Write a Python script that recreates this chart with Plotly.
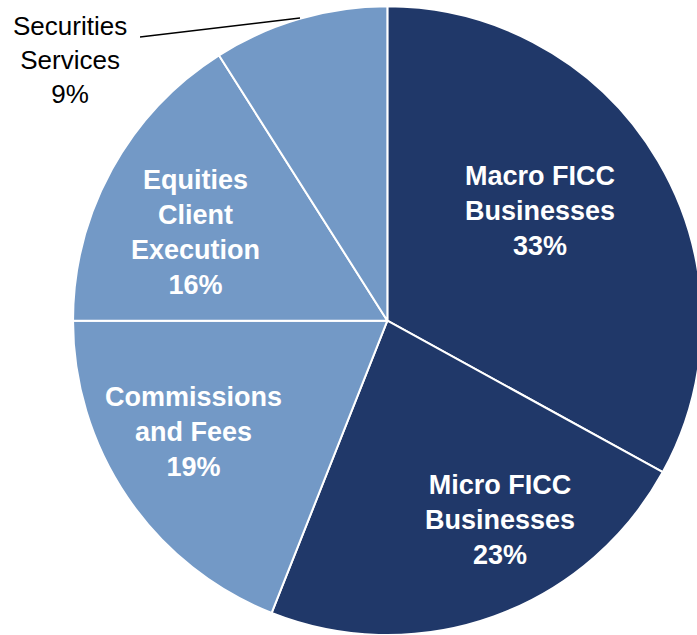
import plotly.graph_objects as go

# slice data, clockwise from 12 o'clock
segments = ["Macro FICC<br>Businesses", "Micro FICC<br>Businesses", "Commissions<br>and Fees",
            "Equities<br>Client<br>Execution", "Securities<br>Services"]
shares = [33, 23, 19, 16, 9]
colors = ["#203869", "#203869", "#7399C6", "#7399C6", "#7399C6"]

# label anchor points in page pixels (x, y from top)
label_pos = [(540, 211), (500, 520), (193, 432), (196, 233), (70, 60)]

# figure is a bit wider than the window so the pie can run off the right edge
W, H = 720, 635


def to_paper(px, py):
    return px / W, 1 - py / H


fig = go.Figure(go.Pie(
    labels=segments,
    values=shares,
    sort=False,
    direction="clockwise",
    rotation=0,
    marker=dict(colors=colors, line=dict(color="white", width=2)),
    textinfo="none",
    hoverinfo="label+value",
    domain=dict(x=[0.101, 0.975], y=[0.0, 0.99]),
    showlegend=False,
))

for i, (seg, val) in enumerate(zip(segments, shares)):
    x, y = to_paper(*label_pos[i])
    outside = i == len(segments) - 1
    fig.add_annotation(
        x=x, y=y, xref="paper", yref="paper",
        text=f"{seg}<br>{val}%",
        showarrow=False, xanchor="center", yanchor="middle",
        font=dict(family="Liberation Sans, Arial",
                  size=26 if outside else 27,
                  color="black" if outside else "white",
                  weight="normal" if outside else "bold"),
    )

# leader line for the small slice
x0, y0 = to_paper(140, 37)
x1, y1 = to_paper(300, 18)
fig.add_shape(type="line", xref="paper", yref="paper",
              x0=x0, y0=y0, x1=x1, y1=y1,
              line=dict(color="black", width=1.5))

fig.update_layout(
    width=W, height=H,
    margin=dict(l=0, r=0, t=0, b=0),
    paper_bgcolor="white",
    plot_bgcolor="white",
)

fig.write_html(
    "out.html",
    config={"displayModeBar": False},
    post_script="document.body.style.margin='0';document.body.style.overflow='hidden';",
)
